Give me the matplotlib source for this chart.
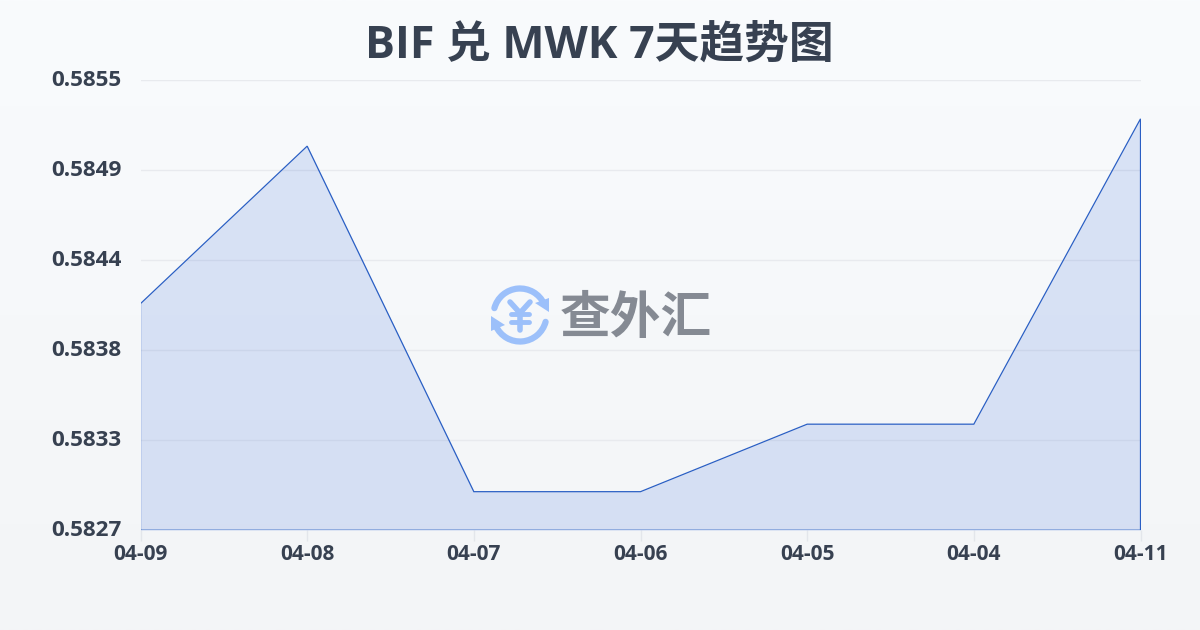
import numpy as np
import matplotlib
matplotlib.use("Agg")
import matplotlib.pyplot as plt
from matplotlib.patches import Arc, Polygon

latin_cjk = ['Open Sans', 'Noto Sans CJK SC', 'DejaVu Sans']
plt.rcParams['font.family'] = latin_cjk

title = "BIF 兑 MWK 7天趋势图"
dates = ["04-09", "04-08", "04-07", "04-06", "04-05", "04-04", "04-11"]
rates = [0.58411, 0.58509, 0.58294, 0.58294, 0.58336, 0.58336, 0.58526]
y_ticks = [0.5827, 0.58326, 0.58382, 0.58438, 0.58494, 0.5855]
y_labels = ["0.5827", "0.5833", "0.5838", "0.5844", "0.5849", "0.5855"]
watermark = "查外汇"

W, H = 1200, 630
fig = plt.figure(figsize=(W / 100, H / 100), dpi=100)

# background gradient + overlay in pixel coordinates
bg = fig.add_axes([0, 0, 1, 1], zorder=0)
top = np.array([0xF9, 0xFB, 0xFD]) / 255
bot = np.array([0xF3, 0xF5, 0xF7]) / 255
grad = np.linspace(0, 1, 256)[:, None, None] * (bot - top) + top
bg.imshow(grad, aspect='auto', extent=[0, W, H, 0])
bg.set_xlim(0, W); bg.set_ylim(H, 0); bg.axis('off')

ax = fig.add_axes([140.5 / W, 1 - 530.25 / H, 1000 / W, 450 / H], zorder=1)
ax.patch.set_alpha(0)
x = np.arange(len(dates))
ax.fill_between(x, rates, y_ticks[0], color='#2A60D8', alpha=0.15, lw=0, zorder=2)
ax.plot(np.r_[x[0], x, x[-1], x[0]],
        np.r_[y_ticks[0], rates, y_ticks[0], y_ticks[0]],
        color='#2A5FC4', lw=0.9, zorder=3, solid_joinstyle='miter')
ax.set_xlim(x[0], x[-1])
ax.set_ylim(y_ticks[0], y_ticks[-1])
ax.set_yticks(y_ticks, y_labels, fontweight='bold', fontsize=16.2, va='center')
ax.set_xticks(x, dates, fontweight='bold', fontsize=15)
ax.grid(axis='y', color='#E8EAEE', lw=1, zorder=1)
ax.set_axisbelow(True)
for s in ax.spines.values():
    s.set_visible(False)
ax.tick_params(axis='y', length=0, pad=13.5, labelcolor='#374151')
ax.tick_params(axis='x', length=8, width=1, color='#E3E6EB', pad=2, labelcolor='#374151')

fig.text(599.5 / W, 1 - 46 / H, title, ha='center', va='center', fontsize=32.2,
         fontweight='bold', color='#374151')

# watermark logo
ov = fig.add_axes([0, 0, 1, 1], zorder=5)
ov.set_xlim(0, W); ov.set_ylim(H, 0); ov.axis('off'); ov.patch.set_alpha(0)
logo = '#9CC0FA'
cx, cy, r = 520, 315, 26.5
ov.add_patch(Arc((cx, cy), 2 * r, 2 * r, theta1=195, theta2=335, color=logo, lw=4.5, capstyle='round'))
ov.add_patch(Arc((cx, cy), 2 * r, 2 * r, theta1=15, theta2=155, color=logo, lw=4.5, capstyle='round'))
ov.add_patch(Polygon([[549, 298], [549, 312], [535, 303]], closed=True, color=logo, lw=0))
ov.add_patch(Polygon([[491, 316], [491, 331], [505, 325]], closed=True, color=logo, lw=0))
ov.plot([510, 520, 530], [302, 313, 302], color=logo, lw=4, solid_capstyle='round')
ov.plot([520, 520], [313, 330], color=logo, lw=4, solid_capstyle='round')
ov.plot([511, 529], [314, 314], color=logo, lw=3.5, solid_capstyle='round')
ov.plot([511, 529], [322, 322], color=logo, lw=3.5, solid_capstyle='round')
ov.text(636, 318.5, watermark, ha='center', va='center', fontsize=36.5,
        fontweight='bold', family=['Noto Sans CJK SC'], color='#858A93')

fig.savefig('out.png', dpi=100)
